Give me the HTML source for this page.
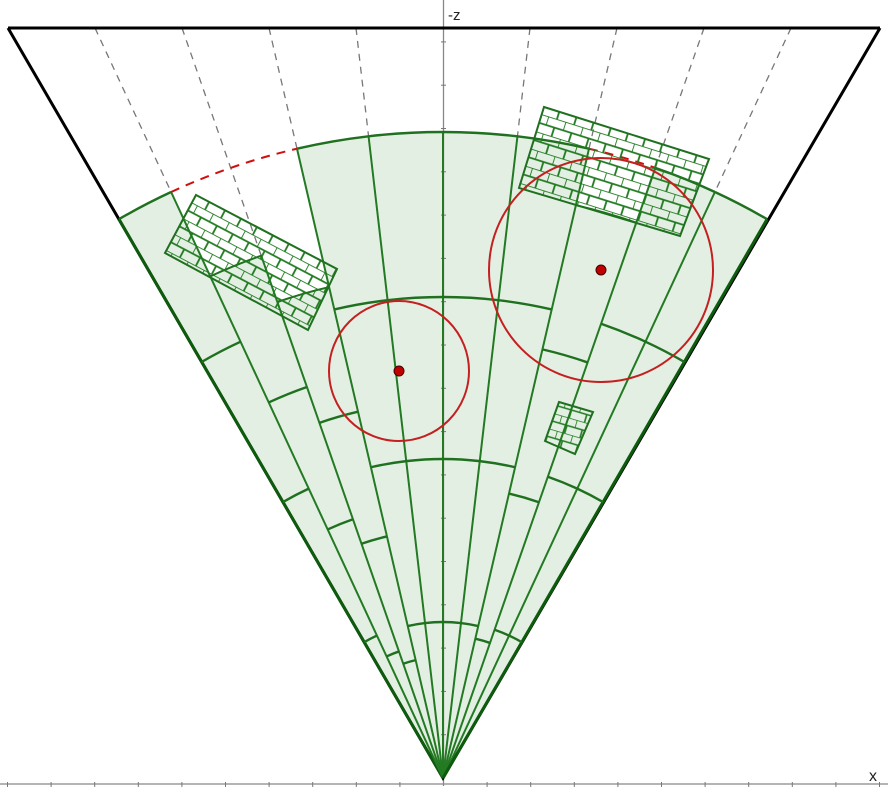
<!DOCTYPE html>
<html><head><meta charset="utf-8"><style>
html,body{margin:0;padding:0;background:#fff;}
svg{display:block;}
text{font-family:"Liberation Sans",sans-serif;}
</style></head><body>
<svg id="chart" width="888" height="793" viewBox="0 0 888 793" xmlns="http://www.w3.org/2000/svg">
<defs>
<pattern id="brickL" width="18" height="18" patternUnits="userSpaceOnUse" patternTransform="rotate(27.7)">
<path d="M0 0H18M0 9H18M0 0V9M9 9V18" stroke="#1f7a1f" stroke-width="1.8" fill="none"/>
</pattern>
<pattern id="brickR" width="18" height="18" patternUnits="userSpaceOnUse" patternTransform="rotate(17.5)">
<path d="M0 0H18M0 9H18M0 0V9M9 9V18" stroke="#1f7a1f" stroke-width="1.8" fill="none"/>
</pattern>
<pattern id="brickS" width="16" height="16" patternUnits="userSpaceOnUse" patternTransform="rotate(16.4)">
<path d="M0 0H16M0 8H16M0 0V8M8 8V16" stroke="#1f7a1f" stroke-width="1.6" fill="none"/>
</pattern>
</defs>
<g id="fills"></g>
<g id="axes"></g>
<g id="lines"></g>
<g id="objs"></g>
</svg>
<script>
// sector ray indices (tan multiples) and per-sector data
const rayK = [-5,-4,-3,-2,-1,0,1,2,3,4,5];
const sectorCaps = [646,553,504,646,646,646,646,588,646,646];
const sectorArcs = [[481,319,157],[414,274,134],[376,248,121],[481,319,156],[481,319,156],[481,319,156],[481,319,156],[440,292,143],[481,319,157],[481,319,157]];
const rayEnds = [646,646,554,646,646,646,646,646,646,646,646];
const dashedOuter = [1,2,7]; // sectors whose outer edge is red dashed
const circleCenters = [[399,371],[601,270]];
const circleRadii = [70,112];

const NS='http://www.w3.org/2000/svg';
const AX=443, AY=778, TSTEP=0.116, FAR_Y=28;
function ang(k){return Math.atan(k*TSTEP);}
function pt(k,r){const a=ang(k);return [AX+r*Math.sin(a),AY-r*Math.cos(a)];}
function mk(tag,attrs,parent){const e=document.createElementNS(NS,tag);for(const a in attrs)e.setAttribute(a,attrs[a]);parent.appendChild(e);return e;}
function arcPath(k0,k1,r){const p0=pt(k0,r),p1=pt(k1,r);return `M${p0[0]} ${p0[1]} A${r} ${r} 0 0 1 ${p1[0]} ${p1[1]}`;}
const fills=document.getElementById('fills'),lines=document.getElementById('lines'),axes=document.getElementById('axes'),objs=document.getElementById('objs');

// fills
for(let s=0;s<sectorCaps.length;s++){
  const k0=rayK[s],k1=rayK[s+1],r=sectorCaps[s];
  const p0=pt(k0,r),p1=pt(k1,r);
  const e=mk('path',{d:`M${AX} ${AY} L${p0[0]} ${p0[1]} A${r} ${r} 0 0 1 ${p1[0]} ${p1[1]} Z`,fill:'#e4efe4',stroke:'#e4efe4','stroke-width':0.6},fills);
  
  
}

// axes
const ya=mk('line',{x1:443.5,y1:0,x2:443.5,y2:786,stroke:'#888','stroke-width':1.3},axes);


const xa=mk('line',{x1:0,y1:784,x2:888,y2:784,stroke:'#888','stroke-width':1.3},axes);


for(let n=1;n<=17;n++){const y=AY-43.3*n;const t=mk('line',{x1:441,y1:y,x2:446,y2:y,stroke:'#777','stroke-width':1},axes);}
for(let n=-10;n<=10;n++){if(!n)continue;const x=443.5+43.6*n;const t=mk('line',{x1:x,y1:782,x2:x,y2:787,stroke:'#777','stroke-width':1},axes);}
const zl=mk('text',{x:448,y:20,'font-size':15,fill:'#222'},axes);zl.textContent='-z';


const xl=mk('text',{x:869,y:781,'font-size':16,fill:'#222'},axes);xl.textContent='x';



// dashed gray ray extensions
for(let i=1;i<rayK.length-1;i++){
  const k=rayK[i];if(k===0)continue;
  const a=ang(k);const r=rayEnds[i];const p=pt(k,r);
  const xt=AX+Math.tan(a)*(AY-FAR_Y);
  const d=mk('line',{x1:xt,y1:FAR_Y,x2:p[0],y2:p[1],stroke:'#777','stroke-width':1.3,'stroke-dasharray':'7 6'},lines);
  
  
}

// frustum black edges
const fr=mk('path',{d:`M8 28 L880 28 M8 28 L${AX} ${AY} L880 28`,stroke:'#000','stroke-width':3,fill:'none'},lines);



// rays
for(let i=0;i<rayK.length;i++){
  const p=pt(rayK[i],rayEnds[i]);
  const edge=(i===0||i===rayK.length-1);
  const l=mk('line',{x1:AX,y1:AY,x2:p[0],y2:p[1],stroke:edge?'#0d5c0d':'#237a23','stroke-width':edge?3:2},lines);
  
  
}
// arcs
for(let s=0;s<sectorArcs.length;s++){
  const k0=rayK[s],k1=rayK[s+1];
  const dashed=dashedOuter.includes(s);
  const cap=mk('path',{d:arcPath(k0,k1,dashed?646:sectorCaps[s]),stroke:dashed?'#d01010':'#1f701f','stroke-width':dashed?2:2.4,fill:'none','stroke-dasharray':dashed?'9 7':'none'},lines);
  
  
  if(dashed){const c2=mk('path',{d:arcPath(k0,k1,sectorCaps[s]),stroke:'#1f701f','stroke-width':2,fill:'none'},lines);}
  for(const r of sectorArcs[s]){
    const a=mk('path',{d:arcPath(k0,k1,r),stroke:'#1f701f','stroke-width':2.4,fill:'none'},lines);
    
    
  }
}

// occluder boxes
const boxes=[["196,195 337,269 308,330 165,253","url(#brickL)"],["544,107 709,159 680,236 519,188","url(#brickR)"],["559,402 593,412 575,454 545,441","url(#brickS)"]];
for(const b of boxes){
  const p=mk('polygon',{points:b[0],fill:b[1],stroke:'#1f701f','stroke-width':2},objs);
  
  
}
// circles
for(let i=0;i<circleCenters.length;i++){
  const c=circleCenters[i];
  const ci=mk('circle',{cx:c[0],cy:c[1],r:circleRadii[i],fill:'none',stroke:'#c42020','stroke-width':2},objs);
  
  
  const d=mk('circle',{cx:c[0],cy:c[1],r:5,fill:'#c00000',stroke:'#400','stroke-width':1},objs);
  
  
}
</script>
</body></html>
